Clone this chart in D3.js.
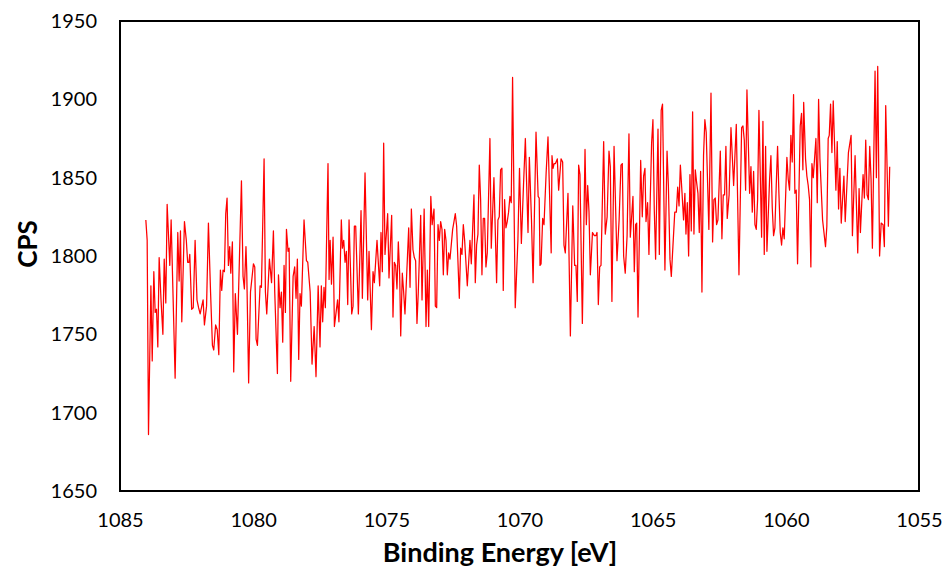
<!DOCTYPE html>
<html>
<head>
<meta charset="utf-8">
<script src="https://cdn.jsdelivr.net/npm/d3@7"></script>
<style>
  html, body { margin: 0; padding: 0; background: #ffffff; }
  svg { display: block; }
  .tick text { font-family: Lato, "Open Sans", sans-serif; font-size: 20px; fill: #000; }
  .title { font-family: Lato, "Open Sans", sans-serif; font-weight: bold; fill: #000; }
</style>
</head>
<body>
<svg id="chart" width="943" height="570"></svg>
<script>
// XPS survey window, binding energy in eV (descending)
const bindingEnergy = [
  1084.03,1083.98,1083.93,1083.84,1083.79,1083.73,1083.68,1083.63,1083.58,1083.53,1083.46,1083.39,1083.34,1083.28,1083.23,1083.13,1083.08,1082.93,1082.83,1082.78,1082.73,1082.68,1082.58,1082.51,1082.46,1082.41,1082.38,1082.31,1082.25,1082.18,1082.11,1082.05,1081.99,1081.93,1081.88,1081.83,1081.75,1081.68,1081.60,1081.53,1081.48,1081.41,1081.35,1081.29,1081.23,1081.18,1081.13,1081.08,1081.03,1080.98,1080.93,1080.88,1080.84,1080.78,1080.73,
  1080.67,1080.59,1080.44,1080.38,1080.33,1080.27,1080.24,1080.17,1080.10,1079.99,1079.94,1079.89,1079.84,1079.74,1079.69,1079.59,1079.54,1079.49,1079.39,1079.31,1079.24,1079.19,1079.09,1079.05,1078.99,1078.94,1078.89,1078.84,1078.79,1078.75,1078.69,1078.65,1078.59,1078.50,1078.44,1078.39,1078.34,1078.29,1078.24,1078.19,1078.09,1078.00,1077.95,1077.86,1077.79,1077.71,1077.64,1077.56,1077.49,1077.44,1077.39,1077.34,1077.29,1077.19,1077.15,
  1077.11,1077.06,1077.00,1076.95,1076.88,1076.83,1076.78,1076.69,1076.65,1076.60,1076.55,1076.50,1076.45,1076.40,1076.35,1076.30,1076.25,1076.20,1076.15,1076.05,1075.95,1075.90,1075.80,1075.70,1075.65,1075.56,1075.50,1075.45,1075.35,1075.25,1075.20,1075.15,1075.10,1075.05,1074.95,1074.90,1074.80,1074.75,1074.70,1074.65,1074.60,1074.55,1074.50,1074.46,1074.40,1074.35,1074.30,1074.16,1074.11,1074.06,1074.00,1073.95,1073.90,1073.85,1073.80,1073.71,1073.66,1073.58,
  1073.51,1073.46,1073.41,1073.33,1073.28,1073.21,1073.16,1073.11,1073.06,1073.01,1072.96,1072.91,1072.86,1072.81,1072.76,1072.71,1072.66,1072.61,1072.51,1072.46,1072.41,1072.36,1072.26,1072.21,1072.16,1072.11,1072.06,1071.96,1071.86,1071.81,1071.71,1071.66,1071.61,1071.56,1071.51,1071.46,1071.41,1071.36,1071.31,1071.26,1071.21,1071.11,1071.06,1070.96,1070.86,1070.81,1070.76,1070.71,1070.66,1070.61,1070.56,1070.51,1070.46,1070.41,1070.36,1070.31,1070.26,1070.16,1070.06,1070.00,
  1069.93,1069.85,1069.78,1069.68,1069.63,1069.55,1069.49,1069.38,1069.30,1069.26,1069.23,1069.19,1069.13,1069.08,1069.00,1068.93,1068.81,1068.78,1068.74,1068.70,1068.65,1068.58,1068.53,1068.44,1068.38,1068.33,1068.28,1068.18,1068.09,1068.00,1067.93,1067.88,1067.83,1067.78,1067.73,1067.64,1067.54,1067.49,1067.44,1067.39,1067.34,1067.26,1067.19,1067.13,1067.09,1067.04,1066.99,1066.94,1066.84,1066.78,1066.71,1066.64,1066.59,1066.53,1066.45,
  1066.34,1066.26,1066.19,1066.14,1066.09,1066.03,1065.96,1065.89,1065.84,1065.74,1065.69,1065.64,1065.60,1065.55,1065.45,1065.39,1065.34,1065.29,1065.25,1065.19,1065.14,1065.04,1064.99,1064.94,1064.89,1064.80,1064.75,1064.68,1064.63,1064.54,1064.46,1064.41,1064.35,1064.30,1064.24,1064.17,1064.11,1064.06,1064.01,1063.96,1063.90,1063.84,1063.79,1063.75,1063.70,1063.65,1063.60,1063.55,1063.50,1063.45,1063.40,1063.35,1063.30,1063.25,1063.20,1063.15,1063.09,1063.04,1062.99,1062.89,
  1062.81,1062.75,1062.70,1062.65,1062.60,1062.55,1062.46,1062.40,1062.35,1062.30,1062.25,1062.20,1062.13,1062.06,1061.96,1061.86,1061.76,1061.66,1061.61,1061.56,1061.51,1061.46,1061.36,1061.31,1061.26,1061.21,1061.16,1061.11,1061.06,1061.01,1060.91,1060.86,1060.81,1060.76,1060.71,1060.61,1060.56,1060.51,1060.46,1060.41,1060.36,1060.31,1060.26,1060.21,1060.16,1060.11,1060.06,1059.96,1059.91,1059.86,1059.81,1059.76,1059.71,1059.66,1059.61,1059.56,1059.46,1059.41,1059.36,1059.33,
  1059.26,1059.21,1059.16,1059.11,1059.06,1059.02,1058.97,1058.87,1058.82,1058.77,1058.72,1058.62,1058.51,1058.46,1058.41,1058.37,1058.32,1058.27,1058.22,1058.12,1058.07,1058.02,1057.97,1057.92,1057.82,1057.77,1057.65,1057.55,1057.50,1057.40,1057.30,1057.25,1057.20,1057.10,1057.05,1057.00,1056.95,1056.90,1056.85,1056.80,1056.75,1056.65,1056.60,1056.55,1056.48,1056.42,1056.35,1056.30,1056.25,1056.15,1056.10
];

// Counts per second at each binding energy
const cps = [
  1823,1810,1686,1781,1733,1790,1764,1766,1742,1799,1772,1750,1798,1770,1833,1794,1823,1722,1815,1784,1816,1758,1822,1810,1796,1796,1801,1766,1767,1810,1772,1767,1763,1768,1772,1756,1768,1821,1777,1743,1740,1756,1753,1737,1791,1778,1791,1790,1827,1837,1794,1806,1789,1809,1726,
  1776,1750,1848,1787,1779,1806,1789,1719,1777,1795,1793,1747,1743,1781,1780,1862,1777,1763,1798,1783,1816,1777,1725,1788,1767,1777,1745,1794,1764,1817,1803,1805,1720,1787,1793,1773,1798,1734,1776,1768,1823,1797,1796,1777,1731,1755,1723,1781,1742,1781,1758,1780,1767,1859,1785,
  1810,1782,1812,1755,1765,1772,1758,1823,1805,1810,1796,1803,1769,1823,1794,1763,1768,1819,1819,1763,1829,1773,1853,1772,1803,1753,1790,1783,1810,1781,1815,1790,1872,1801,1827,1786,1826,1761,1796,1794,1779,1809,1789,1749,1789,1777,1763,1818,1780,1830,1804,1799,1797,1757,1777,1826,1772,1830,
  1755,1791,1755,1838,1820,1830,1768,1767,1820,1810,1822,1817,1788,1817,1810,1788,1802,1798,1817,1822,1827,1819,1773,1805,1801,1820,1810,1781,1810,1795,1839,1783,1807,1814,1858,1836,1788,1824,1824,1793,1802,1875,1805,1850,1783,1823,1825,1855,1856,1778,1836,1818,1822,1828,1838,1834,1914,1767,1810,1856,
  1808,1845,1875,1815,1863,1823,1783,1879,1838,1837,1794,1795,1824,1820,1853,1876,1802,1864,1856,1859,1859,1862,1842,1862,1860,1807,1802,1840,1749,1832,1794,1794,1771,1858,1852,1757,1868,1820,1845,1828,1788,1815,1813,1813,1815,1769,1793,1794,1873,1814,1825,1867,1857,1771,1870,
  1797,1823,1858,1859,1800,1789,1813,1878,1812,1838,1790,1820,1821,1761,1861,1825,1851,1856,1822,1834,1801,1872,1887,1830,1798,1881,1801,1893,1897,1791,1867,1845,1798,1787,1806,1828,1828,1844,1832,1858,1841,1823,1840,1814,1834,1800,1852,1816,1892,1814,1855,1847,1840,1815,1854,1777,1864,1887,1879,1817,
  1904,1809,1836,1837,1820,1823,1867,1811,1839,1839,1870,1824,1839,1882,1845,1884,1788,1882,1883,1874,1842,1906,1840,1857,1828,1854,1820,1817,1836,1893,1812,1886,1801,1870,1803,1849,1864,1831,1813,1818,1845,1870,1840,1815,1807,1818,1811,1863,1849,1842,1877,1860,1903,1840,1842,1795,1883,1891,1855,1898,
  1862,1851,1845,1836,1793,1859,1850,1875,1834,1900,1862,1823,1806,1819,1875,1877,1897,1866,1899,1842,1873,1830,1856,1821,1851,1822,1866,1877,1813,1864,1802,1843,1815,1852,1837,1874,1839,1836,1870,1849,1805,1918,1850,1921,1800,1821,1820,1806,1896,1819,1857
];

const xTicks = [1085, 1080, 1075, 1070, 1065, 1060, 1055];
const yTicks = [1650, 1700, 1750, 1800, 1850, 1900, 1950];
const xLabel = "Binding Energy [eV]";
const yLabel = "CPS";

const plot = { left: 120, right: 919, top: 21, bottom: 491 };

const svg = d3.select("#chart");

// Binding energy axis runs high-to-low, left-to-right
const x = d3.scaleLinear().domain([1085, 1055]).range([plot.left, plot.right]);
const y = d3.scaleLinear().domain([1650, 1950]).range([plot.bottom, plot.top]);

const series = bindingEnergy.map((e, i) => ({ e, c: cps[i] }));

svg.append("path")
  .datum(series)
  .attr("fill", "none")
  .attr("stroke", "#ff0000")
  .attr("stroke-width", 1.25)
  .attr("stroke-linejoin", "round")
  .attr("d", d3.line().x(d => x(d.e)).y(d => y(d.c)));

// Plot frame
svg.append("rect")
  .attr("x", plot.left)
  .attr("y", plot.top)
  .attr("width", plot.right - plot.left)
  .attr("height", plot.bottom - plot.top)
  .attr("fill", "none")
  .attr("stroke", "#000")
  .attr("stroke-width", 2);

// Axes: labels only, no tick marks
const xAxis = svg.append("g")
  .attr("transform", `translate(0,${plot.bottom})`)
  .call(d3.axisBottom(x).tickValues(xTicks).tickSize(0).tickPadding(22).tickFormat(d3.format("d")));
xAxis.select(".domain").remove();

const yAxis = svg.append("g")
  .attr("transform", `translate(${plot.left},0)`)
  .call(d3.axisLeft(y).tickValues(yTicks).tickSize(0).tickPadding(23).tickFormat(d3.format("d")));
yAxis.select(".domain").remove();

svg.selectAll(".tick text").attr("font-family", null).attr("font-size", null);

svg.append("text")
  .attr("class", "title")
  .attr("x", 500)
  .attr("y", 562)
  .attr("font-size", 27)
  .attr("text-anchor", "middle")
  .text(xLabel);

svg.append("text")
  .attr("class", "title")
  .attr("font-size", 26)
  .attr("transform", "translate(37,244) rotate(-90)")
  .attr("text-anchor", "middle")
  .text(yLabel);
</script>
</body>
</html>
